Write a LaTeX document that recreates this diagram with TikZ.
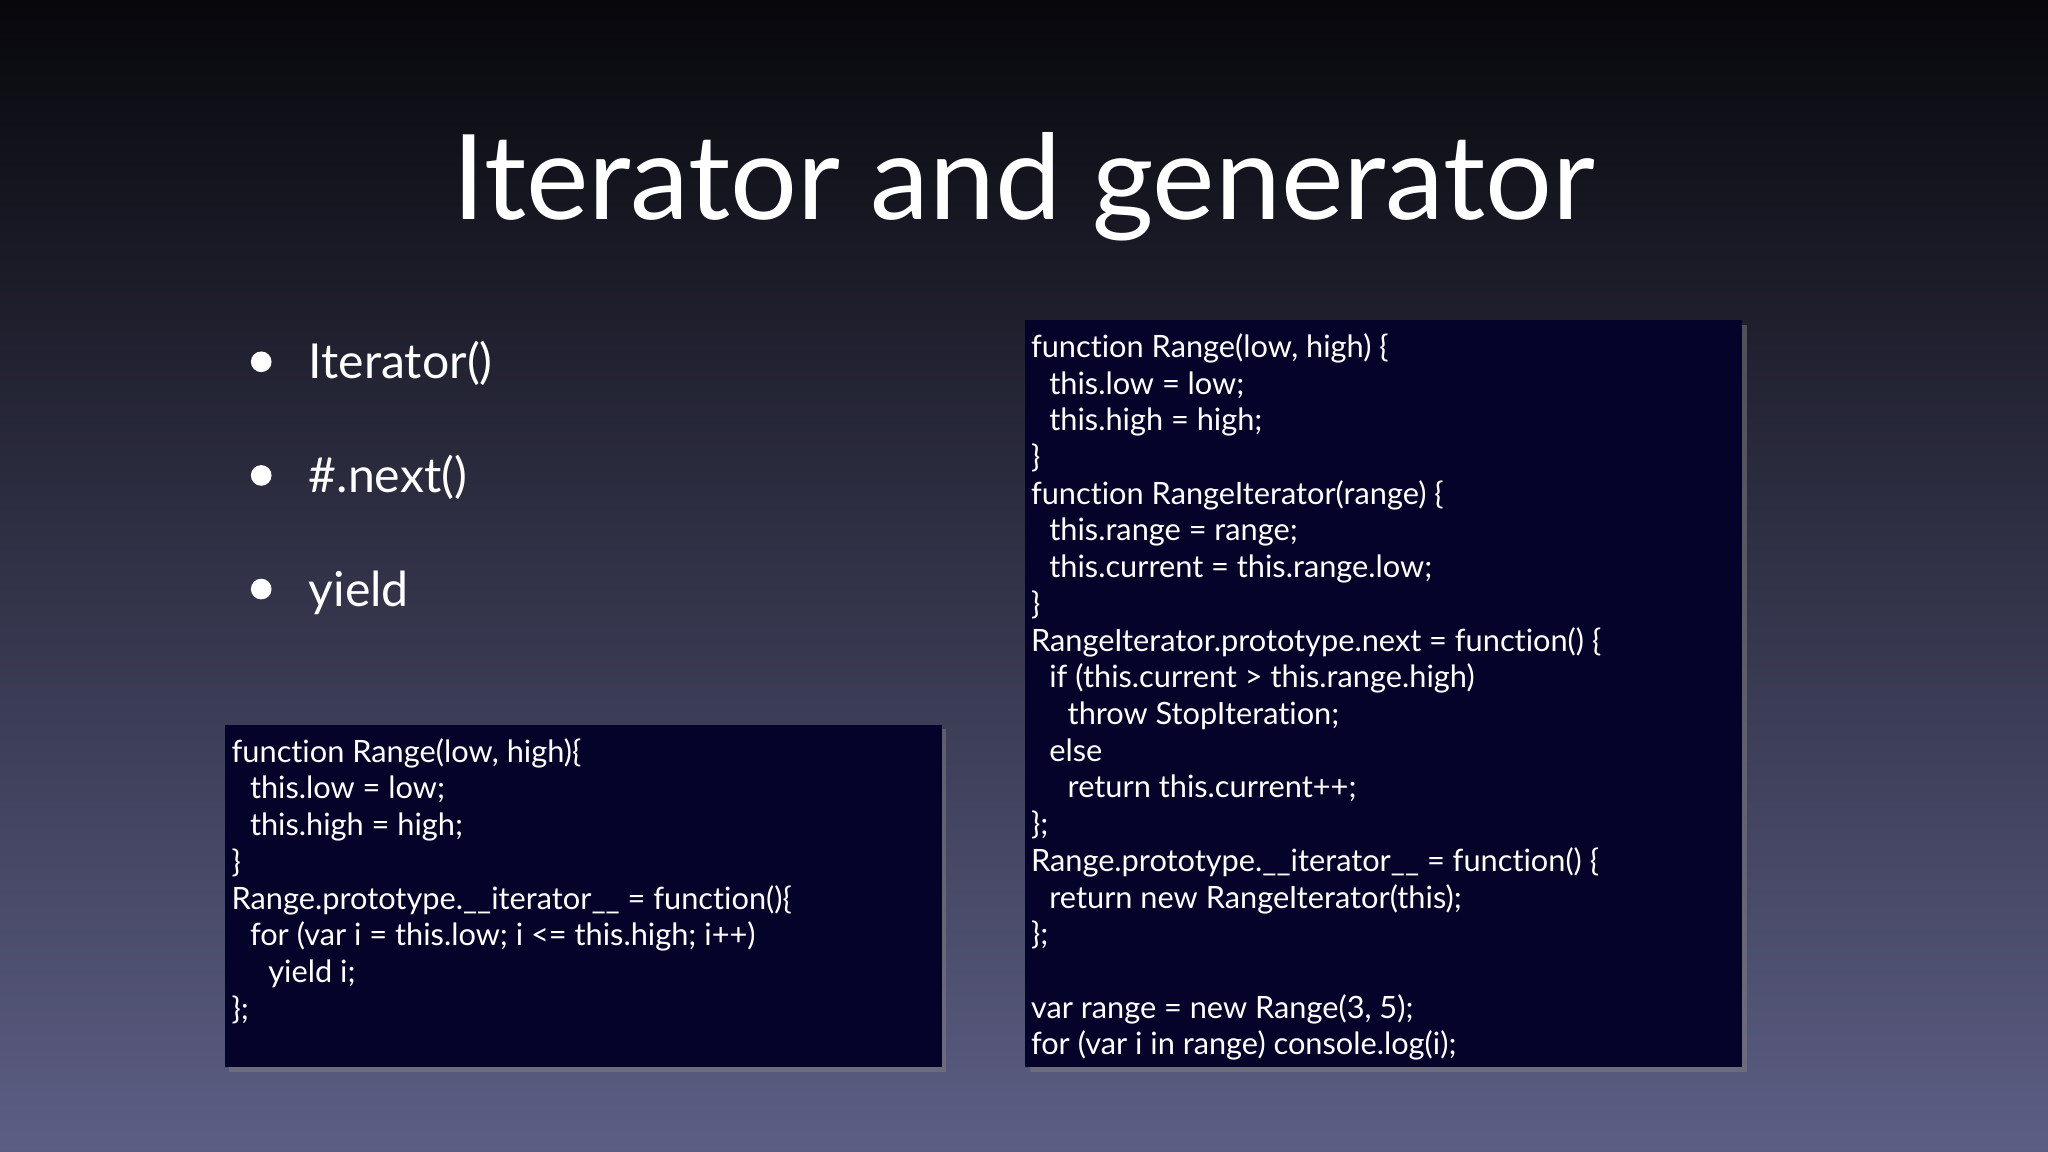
\documentclass[tikz,border=0pt]{standalone}
\usepackage{fontspec}
\setmainfont{Lato}[Ligatures={NoCommon,TeX}]
\definecolor{bgtop}{HTML}{07070C}
\definecolor{bgbot}{HTML}{5C5E84}
\definecolor{codebg}{HTML}{05032A}
\newcommand{\ind}{\hspace*{8pt}}
\usetikzlibrary{shadows}
\tikzset{
 codebox/.style={fill=codebg, draw=none, drop shadow={opacity=0.5,shadow xshift=2pt,shadow yshift=-2pt}},
 code/.style={anchor=north west, align=left, text=white, font=\fontsize{13.4pt}{16pt}\selectfont, inner sep=0pt},
 bullet/.style={anchor=base west, text=white, font=\fontsize{21pt}{26pt}\selectfont, inner sep=0pt},
 dot/.style={circle, fill=white, minimum size=9pt, inner sep=0pt}
}
\begin{document}
\begin{tikzpicture}[x=0.02cm,y=-0.02cm]
\shade[top color=bgtop, bottom color=bgbot] (0,0) rectangle (1568,882);
\useasboundingbox (0,0) rectangle (1568,882);
\node[anchor=base, text=white, font=\fontsize{51.5pt}{54pt}\selectfont, inner sep=0pt] (title) at (784,168) {Iterator and generator};
\node[dot] (d1) at (200,277) {};
\node[dot] (d2) at (200,364) {};
\node[dot] (d3) at (200,451) {};
\node[bullet] (b1) at (236,290) {Iterator()};
\node[bullet] (b2) at (236,377) {\#.next()};
\node[bullet] (b3) at (236,464) {yield};
\fill[codebox] (172,555) rectangle (721,817);
\fill[codebox] (785,245) rectangle (1334,817);
\node[code] (lc) at (177,565) {function Range(low, high)\{\\
\ind this.low = low;\\
\ind this.high = high;\\
\}\\
Range.prototype.\_\_iterator\_\_ = function()\{\\
\ind for (var i = this.low; i <= this.high; i++)\\
\ind\ind yield i;\\
\};};
\node[code] (rc) at (789,255) {function Range(low, high) \{\\
\ind this.low = low;\\
\ind this.high = high;\\
\}\\
function RangeIterator(range) \{\\
\ind this.range = range;\\
\ind this.current = this.range.low;\\
\}\\
RangeIterator.prototype.next = function() \{\\
\ind if (this.current > this.range.high)\\
\ind\ind throw StopIteration;\\
\ind else\\
\ind\ind return this.current++;\\
\};\\
Range.prototype.\_\_iterator\_\_ = function() \{\\
\ind return new RangeIterator(this);\\
\};\\
\mbox{}\\
var range = new Range(3, 5);\\
for (var i in range) console.log(i);};
\end{tikzpicture}
\end{document}
